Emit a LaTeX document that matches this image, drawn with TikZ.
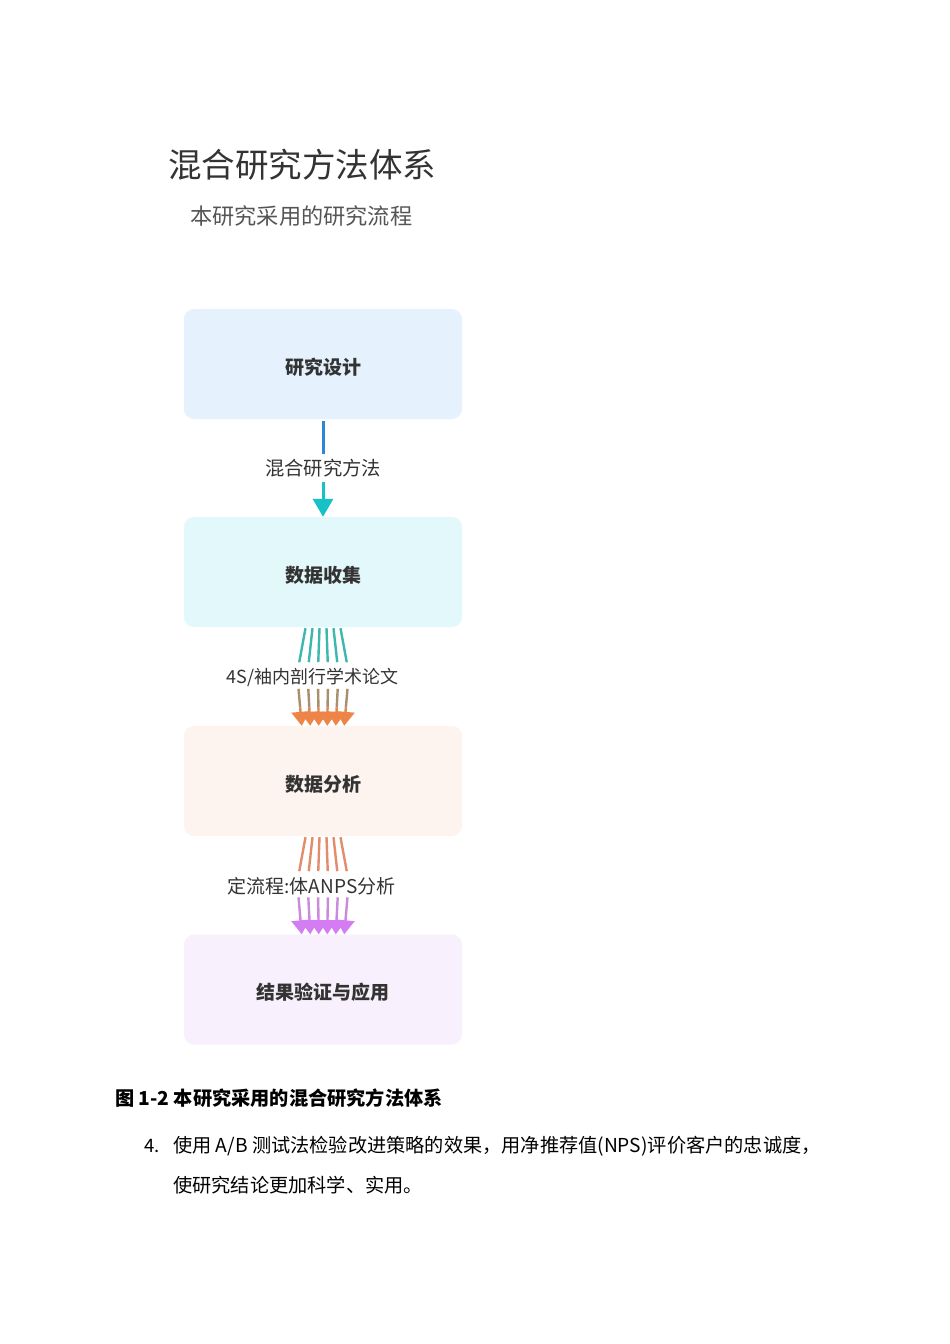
\documentclass[tikz,border=0pt]{standalone}
\usepackage{fontspec}
\setmainfont{Noto Sans CJK SC}
\usetikzlibrary{arrows.meta,calc}
\definecolor{txt}{HTML}{333333}
\definecolor{subtxt}{HTML}{555555}
\definecolor{fillA}{HTML}{E5F1FD}
\definecolor{fillB}{HTML}{E3F8FB}
\definecolor{fillC}{HTML}{FDF3EF}
\definecolor{fillD}{HTML}{F8F1FD}
\definecolor{lineBlue}{HTML}{2F86D6}
\definecolor{lineCyan}{HTML}{16C2C6}
\definecolor{fanTeal}{HTML}{3DB8AE}
\definecolor{fanBrown}{HTML}{A8906E}
\definecolor{fanOrange}{HTML}{EE8548}
\definecolor{fanSalmon}{HTML}{E38C6C}
\definecolor{fanLilac}{HTML}{C98CDB}
\definecolor{fanPurple}{HTML}{D47DF2}
\tikzset{
  box/.style={minimum width=278pt, minimum height=110pt, rounded corners=10pt,
    inner sep=0pt, text=txt},
  boxtext/.style={inner sep=0pt, text=txt, font=\fontsize{19}{21}\selectfont\bfseries},
  lab/.style={minimum height=28pt, inner sep=0pt, text=txt,
    font=\fontsize{18}{20}\selectfont},
  fanline/.style={line width=2.4pt},
}
\begin{document}
\begin{tikzpicture}[x=1pt,y=-1pt]
\useasboundingbox[fill=white] (0,0) rectangle (950,1344);

\node[anchor=west, text=txt, font=\fontsize{33.5}{36}\selectfont, inner sep=0pt] (title) at (168,165) {混合研究方法体系};
\node[anchor=west, text=subtxt, font=\fontsize{22.2}{24}\selectfont, inner sep=0pt] (subtitle) at (190,216) {本研究采用的研究流程};

\node[box, fill=fillA] (b1) at (323,364) {};
\node[box, fill=fillB] (b2) at (323,572) {};
\node[box, fill=fillC] (b3) at (323,781) {};
\node[box, fill=fillD] (b4) at (323,989.5) {};
\node[boxtext] (t1) at ($(b1.center)+(0,3.5)$) {研究设计};
\node[boxtext] (t2) at ($(b2.center)+(0,3.5)$) {数据收集};
\node[boxtext] (t3) at ($(b3.center)+(0,3)$) {数据分析};
\node[boxtext] (t4) at ($(b4.center)+(0,3)$) {结果验证与应用};

\node[lab, font=\fontsize{19.3}{21}\selectfont] (l1) at (323,468) {混合研究方法};
\node[lab] (l2) at (312.5,677) {4S/袖内剖行学术论文};
\node[lab, font=\fontsize{19}{21}\selectfont] (l3) at (311.5,886) {定流程:体ANPS分析};

% connector 1
\draw[line width=3pt, lineBlue] ($(b1.south)+(0,2)$) -- (l1.north);
\draw[line width=3pt, lineCyan, -{Triangle[width=20pt,length=18pt]}] (l1.south) -- (b2.north);

% connector 2
\foreach \k in {-2.5,-1.5,-0.5,0.5,1.5,2.5}{
  \coordinate (s) at ($(b2.south)+(\k*7,1)$);
  \coordinate (m1) at ($(b2.south)+(\k*9.5,35)$);
  \coordinate (m2) at ($(b3.north)+(\k*9.8,-37)$);
  \coordinate (e) at ($(b3.north)+(\k*8.5,0)$);
  \draw[fanline, fanTeal] (s) -- (m1);
  \draw[fanline, fanBrown] (m2) -- ($(m2)!0.5!(e)$);
  \draw[fanline, fanOrange!70!fanBrown, -{Triangle[width=18pt,length=14pt,color=fanOrange]}] ($(m2)!0.5!(e)$) -- (e);
}

% connector 3
\foreach \k in {-2.5,-1.5,-0.5,0.5,1.5,2.5}{
  \coordinate (s) at ($(b3.south)+(\k*7,1)$);
  \coordinate (m1) at ($(b3.south)+(\k*9.5,35)$);
  \coordinate (m2) at ($(b4.north)+(\k*9.8,-37)$);
  \coordinate (e) at ($(b4.north)+(\k*8.5,0)$);
  \draw[fanline, fanSalmon] (s) -- (m1);
  \draw[fanline, fanLilac] (m2) -- ($(m2)!0.5!(e)$);
  \draw[fanline, fanPurple!80!fanLilac, -{Triangle[width=18pt,length=14pt,color=fanPurple]}] ($(m2)!0.5!(e)$) -- (e);
}

\node[anchor=west, inner sep=0pt, text=black, font=\fontsize{19.2}{21}\selectfont\bfseries] (cap) at (115,1098) {图 1-2 本研究采用的混合研究方法体系};
\node[anchor=west, inner sep=0pt, text=black, font=\fontsize{18.5}{20}\selectfont] (num) at (144,1146) {4.};
\node[anchor=west, inner sep=0pt, text=black, font=\fontsize{19.2}{21}\selectfont] (p1) at (173,1146) {使用 A/B 测试法检验改进策略的效果，用净推荐值(NPS)评价客户的忠诚度，};
\node[anchor=west, inner sep=0pt, text=black, font=\fontsize{19.2}{21}\selectfont] (p2) at (173,1185) {使研究结论更加科学、实用。};
\end{tikzpicture}
\end{document}
